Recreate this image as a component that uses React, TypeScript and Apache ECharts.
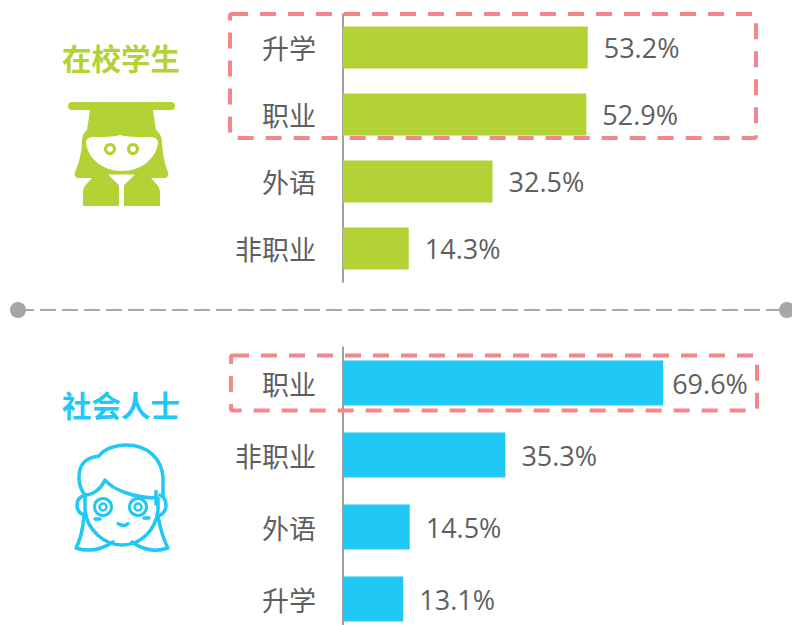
import React, { useEffect, useRef } from "react";
import * as echarts from "echarts";

const studentCategories = ["升学", "职业", "外语", "非职业"];
const studentValues = [53.2, 52.9, 32.5, 14.3];
const adultCategories = ["职业", "非职业", "外语", "升学"];
const adultValues = [69.6, 35.3, 14.5, 13.1];
const studentTitle = "在校学生";
const adultTitle = "社会人士";

const GREEN = "#B2D235";
const BLUE = "#1FC8F5";
const RED = "#F5868C";
const GREY = "#A6A6A6";
const TEXT = "#5F5F5F";
const FONT = "'Noto Sans CJK SC', 'Noto Sans', sans-serif";
const NUM_FONT = "'Open Sans', 'Noto Sans', sans-serif";

const hairPath =
  "M90 110 L153 110 L156 130 C160 133 162 138 162 143 C163 156 165 165 168 172 C169 176 167 178 164 178 L79 178 C76 178 74 176 75 172 C79 164 81 155 82 143 C82 137 83 133 87 130 Z";
const facePath =
  "M86 143 C86 139 89 137 93 137 C104 137 112 137 120 135 C128 137 138 137 150 137 C155 137 158 139 158 143 C156 158 142 171 122 171 C102 171 88 158 86 143 Z";
const bodyLeftPath = "M83 206 L83 192 C83 186 88 183 92 178 L108 174 L119 185 L119 206 Z";
const bodyRightPath = "M124 206 L124 185 L135 174 L151 178 C155 183 160 186 160 192 L160 206 Z";
const collarPath = "M108 174.5 L135 174.5 L124 185 L124 206 L119 206 L119 185 Z";

const adultHair =
  "M85 495 C81 490 79 485 79 478 C79 465 84 458 99 456 C104 449 115 445 126 445 C148 445 162 459 163 478 L163 497";
const adultLowerLeft = "M84 516 C83 527 81 539 76 548 C88 552 101 550 113 542";
const adultLowerRight = "M158 516 C160 527 163 539 168 548 C156 552 143 550 132 542";
const adultFringe = "M85 495 C93 495 101 489 105 480 C113 490 135 498 156 498 M156 491.5 L156 504";
const adultFace =
  "M85 495 L85 510 C87 530 104 545 122 545 C141 545 156 530 158 510 L158 498";
const adultEarLeft = "M85 495 C79 497 77 501 77 505 C77 510 80 515 86 515";
const adultEarRight = "M160 495 C164 497 166 501 166 505 C166 510 163 515 158 516";
const adultMouth = "M118 523.5 C121 526 126 526 128 523.5";
const adultBlushLeft = "M95 519 L100 519";
const adultBlushRight = "M144 518 L149 518";

const shapes: Record<string, string> = {
  hairS: hairPath,
  faceS: facePath,
  bodyLS: bodyLeftPath,
  bodyRS: bodyRightPath,
  collarS: collarPath,
  aHair: adultHair,
  aLowL: adultLowerLeft,
  aLowR: adultLowerRight,
  aFringe: adultFringe,
  aFace: adultFace,
  aEarL: adultEarLeft,
  aEarR: adultEarRight,
  aMouth: adultMouth,
  aBlushL: adultBlushLeft,
  aBlushR: adultBlushRight,
};
Object.keys(shapes).forEach((k) =>
  echarts.graphic.registerShape(k, echarts.graphic.extendPath(shapes[k], {}))
);

const categoryAxis = (gridIndex: number, data: string[]) => ({
  type: "category" as const,
  gridIndex,
  data,
  inverse: true,
  axisTick: { show: false },
  axisLine: { show: true, lineStyle: { color: "#808080", width: 1.5 } },
  axisLabel: { color: TEXT, fontSize: 27, fontFamily: FONT, margin: 27, padding: [0, 0, 3, 0] },
});
const valueAxis = (gridIndex: number) => ({
  type: "value" as const,
  gridIndex,
  min: 0,
  max: 100,
  show: false,
  splitLine: { show: false },
});
const barSeries = (index: number, values: number[], color: string, width: number) => ({
  type: "bar" as const,
  xAxisIndex: index,
  yAxisIndex: index,
  barWidth: width,
  itemStyle: { color },
  silent: true,
  data: values.map((v) => ({
    value: v,
    label: { distance: v > 60 ? 9 : 16 },
  })),
  label: {
    show: true,
    position: "right" as const,
    color: TEXT,
    fontSize: 27,
    fontFamily: NUM_FONT,
    formatter: (p: any) => `${p.value}%`,
  },
});

const strokeShape = (type: string, color: string) => ({
  type,
  x: 0,
  y: 0,
  style: { fill: "none", stroke: color, lineWidth: 3.5, lineCap: "round", lineJoin: "round" },
});
const fillShape = (type: string, color: string) => ({
  type,
  x: 0,
  y: 0,
  style: { fill: color },
});
const dot = (cx: number, cy: number, r: number, fill: string) => ({
  type: "circle",
  shape: { cx, cy, r },
  style: { fill },
});
const ring = (cx: number, cy: number, r: number, lineWidth: number, color: string) => ({
  type: "circle",
  shape: { cx, cy, r },
  style: { fill: "none", stroke: color, lineWidth },
});
const dashedBox = (x: number, y: number, width: number, height: number) => ({
  type: "rect",
  shape: { x, y, width, height, r: 2 },
  z: 10,
  style: { fill: "none", stroke: RED, lineWidth: 4, lineDash: [16, 12] },
});
const title = (text: string, y: number, color: string) => ({
  type: "text",
  x: 121,
  y,
  style: {
    text,
    fill: color,
    font: `bold 29.5px ${FONT}`,
    textAlign: "center",
    textVerticalAlign: "middle",
  },
});

export default function App() {
  const ref = useRef<HTMLDivElement>(null);
  useEffect(() => {
    const chart = echarts.init(ref.current!, undefined, { renderer: "svg" });
    chart.setOption({
      animation: false,
      backgroundColor: "#fff",
      grid: [
        { left: 343, top: 14, width: 460, height: 268 },
        { left: 343, top: 347, width: 460, height: 288 },
      ],
      yAxis: [categoryAxis(0, studentCategories), categoryAxis(1, adultCategories)],
      xAxis: [valueAxis(0), valueAxis(1)],
      series: [
        barSeries(0, studentValues, GREEN, 42),
        barSeries(1, adultValues, BLUE, 45),
      ],
      graphic: [
        dashedBox(230, 14, 526, 124),
        dashedBox(231, 355.5, 526, 55),
        {
          type: "line",
          shape: { x1: 18, y1: 310, x2: 787, y2: 310 },
          style: { stroke: GREY, lineWidth: 2, lineDash: [16, 6] },
        },
        dot(18, 310, 8, GREY),
        dot(787, 310, 8, GREY),
        title(studentTitle, 57, GREEN),
        title(adultTitle, 403.5, BLUE),
        {
          type: "rect",
          shape: { x: 68, y: 102, width: 107, height: 8, r: 4 },
          style: { fill: GREEN },
        },
        fillShape("hairS", GREEN),
        fillShape("faceS", "#fff"),
        fillShape("bodyLS", GREEN),
        fillShape("bodyRS", GREEN),
        fillShape("collarS", "#fff"),
        ring(110, 149, 4.5, 3, GREEN),
        ring(133, 149, 4.5, 3, GREEN),
        strokeShape("aHair", BLUE),
        strokeShape("aLowL", BLUE),
        strokeShape("aLowR", BLUE),
        strokeShape("aFringe", BLUE),
        strokeShape("aFace", BLUE),
        strokeShape("aEarL", BLUE),
        strokeShape("aEarR", BLUE),
        strokeShape("aMouth", BLUE),
        strokeShape("aBlushL", BLUE),
        strokeShape("aBlushR", BLUE),
        ring(103, 507, 8.5, 3, BLUE),
        ring(103, 507, 3.5, 2.5, BLUE),
        ring(138, 507, 8.5, 3, BLUE),
        ring(138, 507, 3.5, 2.5, BLUE),
      ],
    });
    return () => chart.dispose();
  }, []);
  return (
    <div style={{ position: "fixed", left: 0, top: 0, width: 792, height: 625, overflow: "hidden" }}>
      <div ref={ref} style={{ width: 820, height: 650 }} />
    </div>
  );
}
